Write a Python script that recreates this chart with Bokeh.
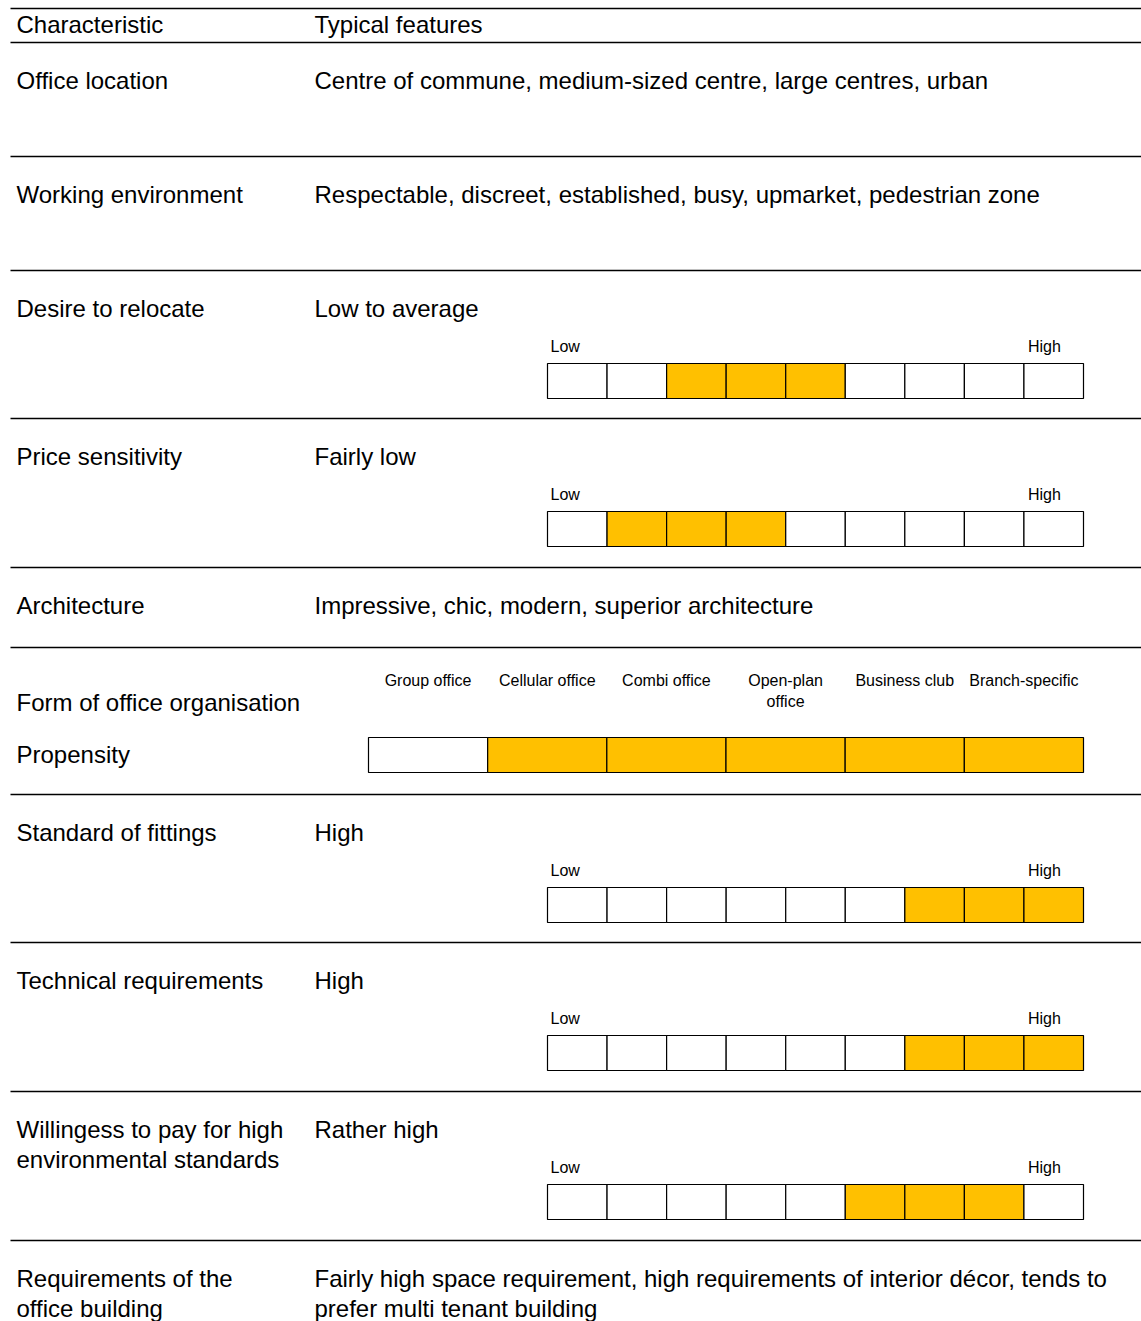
from bokeh.plotting import figure
from bokeh.models import Range1d
from bokeh.core.properties import value
from bokeh.embed import file_html
from bokeh.resources import INLINE

# ---------------- data ----------------
header = ["Characteristic", "Typical features"]
characteristics = [
    "Office location",
    "Working environment",
    "Desire to relocate",
    "Price sensitivity",
    "Architecture",
    "Form of office organisation",
    "Standard of fittings",
    "Technical requirements",
    "Willingess to pay for high\nenvironmental standards",
    "Requirements of the\noffice building",
]
features = [
    "Centre of commune, medium-sized centre, large centres, urban",
    "Respectable, discreet, established, busy, upmarket, pedestrian zone",
    "Low to average",
    "Fairly low",
    "Impressive, chic, modern, superior architecture",
    "",
    "High",
    "High",
    "Rather high",
    "Fairly high space requirement, high requirements of interior décor, tends to\nprefer multi tenant building",
]
# 9-step Low..High scales: row index -> filled cells (1-based, inclusive)
scale_rows = [2, 3, 6, 7, 8]
scale_fill_from = [3, 2, 7, 7, 6]
scale_fill_to = [5, 4, 9, 9, 8]
scale_steps = 9
scale_labels = ["Low", "High"]

office_forms = ["Group office", "Cellular office", "Combi office",
                "Open-plan\noffice", "Business club", "Branch-specific"]
propensity = [0, 1, 1, 1, 1, 1]
propensity_label = "Propensity"

# ---------------- layout ----------------
W, H = 1141, 1321
row_lines = [42, 156, 270, 418, 567, 647, 794, 942, 1091, 1240]
FONT = "Liberation Sans"
BIG = "24px"
SMALL = "16px"
FILL = "#FFC000"
col1_x, col2_x = 16, 314
scale_left, scale_right = 547, 1083
form_left, form_right = 368, 1083
form_row = 5

p = figure(width=W, height=H, output_backend="svg", toolbar_location=None,
           x_range=Range1d(0, W), y_range=Range1d(H, 0),
           min_border=0, outline_line_color=None)
p.axis.visible = False
p.grid.visible = False
p.background_fill_color = "white"
p.border_fill_color = "white"

# horizontal rules
ys = [8] + row_lines
p.segment(x0=[10] * len(ys), x1=[W] * len(ys), y0=ys, y1=ys,
          line_color="black", line_width=1.3)

# texts
tx, ty, tt = [], [], []
tx += [col1_x, col2_x]; ty += [24, 24]; tt += header
for i, (c, f) in enumerate(zip(characteristics, features)):
    top = row_lines[i]
    base = top + (55 if i == form_row else 38)
    for k, line in enumerate(c.split("\n")):
        tx.append(col1_x); ty.append(base + 30 * k); tt.append(line)
    if f:
        for k, line in enumerate(f.split("\n")):
            tx.append(col2_x); ty.append(base + 30 * k); tt.append(line)
# propensity label
tx.append(col1_x); ty.append(row_lines[form_row] + 107); tt.append(propensity_label)
p.text(x=tx, y=ty, text=tt, text_font=value(FONT), text_font_size=BIG,
       text_baseline="middle", text_align="left", text_color="black")

# scales
cw = (scale_right - scale_left) / scale_steps
ql, qr, qt, qb, qc = [], [], [], [], []
lx, ly, lt = [], [], []
for r, a, b in zip(scale_rows, scale_fill_from, scale_fill_to):
    top = row_lines[r]
    for s in range(scale_steps):
        ql.append(scale_left + s * cw); qr.append(scale_left + (s + 1) * cw)
        qt.append(top + 93); qb.append(top + 128)
        qc.append(FILL if a <= s + 1 <= b else "white")
    lx += [scale_left + 3, scale_left + (scale_steps - 1) * cw + 4]
    ly += [top + 76, top + 76]
    lt += scale_labels
# office form propensity cells
fw = (form_right - form_left) / len(office_forms)
ftop = row_lines[form_row]
for j, (name, v) in enumerate(zip(office_forms, propensity)):
    ql.append(form_left + j * fw); qr.append(form_left + (j + 1) * fw)
    qt.append(ftop + 90); qb.append(ftop + 125)
    qc.append(FILL if v else "white")
p.quad(left=ql, right=qr, top=qt, bottom=qb, fill_color=qc,
       line_color="black", line_width=1.2)

p.text(x=lx, y=ly, text=lt, text_font=value(FONT), text_font_size=SMALL,
       text_baseline="middle", text_align="left", text_color="black")

fx, fy, ft = [], [], []
for j, name in enumerate(office_forms):
    for k, line in enumerate(name.split("\n")):
        fx.append(form_left + (j + 0.5) * fw); fy.append(ftop + 33 + 21 * k); ft.append(line)
p.text(x=fx, y=fy, text=ft, text_font=value(FONT), text_font_size=SMALL,
       text_baseline="middle", text_align="center", text_color="black")

open("out.html", "w").write(file_html(p, INLINE))
